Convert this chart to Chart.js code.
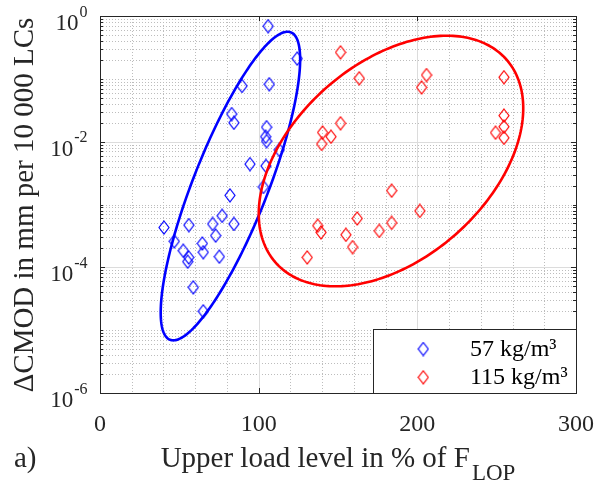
<!DOCTYPE html>
<html>
<head>
<meta charset="utf-8">
<script src="https://cdn.jsdelivr.net/npm/chart.js@4.4.0/dist/chart.umd.min.js"></script>
<style>
    html, body { margin: 0; padding: 0; background: #fff; }
    canvas { display: block; }
</style>
</head>
<body>
<canvas id="chart" width="598" height="487"></canvas>
<script>
/**
 * dCMOD per 10 000 load cycles vs upper load level
 * two fibre contents, log y axis, ellipses round each group
 */

// 57 kg/m³ (blue)
const blueX = [106, 124.3, 89.5, 106.7, 83, 84.4, 105, 104.4, 105, 113, 94.5, 104.6, 103, 81.9,
    40.3, 56, 71, 77, 84.4, 72.9, 64.5, 46.8, 52.5, 55.9, 55.3, 65.1, 75.2, 58.8, 65.1];
const blueY = [0.69, 0.21, 0.077, 0.082, 0.0275, 0.020, 0.017, 0.012, 0.0102, 0.0074, 0.0044, 0.0041, 0.0019, 0.0014,
    4.3e-4, 4.7e-4, 4.9e-4, 6.6e-4, 4.9e-4, 3.2e-4, 2.4e-4, 2.6e-4, 1.84e-4, 1.44e-4, 1.23e-4, 1.74e-4, 1.48e-4, 4.8e-5, 2.0e-5];

// 115 kg/m³ (red)
const redX = [151.6, 163.4, 205.8, 202.7, 254.6, 254.6, 254.6, 249.3, 254.6, 151.6, 140.3, 145.6, 139.7, 183.8,
    201.6, 162.1, 183.8, 176, 137.2, 139.3, 155, 159.2, 130.6];
const redY = [0.264, 0.102, 0.115, 0.073, 0.106, 0.026, 0.0173, 0.0139, 0.0115, 0.0196, 0.014, 0.012, 0.0092, 0.00166,
    7.9e-4, 6.0e-4, 5.1e-4, 3.8e-4, 4.6e-4, 3.6e-4, 3.3e-4, 2.1e-4, 1.44e-4];

const seriesLabels = ['57 kg/m³', '115 kg/m³'];

// axes
const xTicks = [0, 100, 200, 300];
const xMinorStep = 20;
const yTickExps = [0, -2, -4, -6];

// ellipses: centre and two conjugate half axes, x in %, y in log10
const blueEllipse = { cx: 82.2, cy: -2.706, ux: 36.0, uy: 2.456, vx: 25.2, vy: 0 };
const redEllipse = { cx: 183.4, cy: -2.308, ux: 35.1, uy: 1.994, vx: 75.6, vy: 0 };

const serif = "'Liberation Serif', 'Times New Roman', serif";
const axisColor = '#262626';

function diamondMark(color) {
    const c = document.createElement('canvas');
    c.width = 12;
    c.height = 15;
    const g = c.getContext('2d');
    g.strokeStyle = color;
    g.lineWidth = 1.2;
    g.beginPath();
    g.moveTo(6, 1);
    g.lineTo(11, 7.5);
    g.lineTo(6, 14);
    g.lineTo(1, 7.5);
    g.closePath();
    g.stroke();
    return c;
}

const blueMark = diamondMark('#0000ff');
const redMark = diamondMark('#ff0000');

function hLine(ctx, x1, x2, y) {
    ctx.beginPath();
    ctx.moveTo(x1, y);
    ctx.lineTo(x2, y);
    ctx.stroke();
}

function vLine(ctx, x, y1, y2) {
    ctx.beginPath();
    ctx.moveTo(x, y1);
    ctx.lineTo(x, y2);
    ctx.stroke();
}

function drawEllipse(ctx, xs, ys, e, color) {
    ctx.beginPath();
    for (let i = 0; i <= 240; i++) {
        const t = i / 240 * Math.PI * 2;
        const vx = e.cx + e.ux * Math.cos(t) + e.vx * Math.sin(t);
        const vl = e.cy + e.uy * Math.cos(t) + e.vy * Math.sin(t);
        const px = xs.getPixelForValue(vx);
        const py = ys.getPixelForValue(Math.pow(10, vl));
        if (i === 0) ctx.moveTo(px, py); else ctx.lineTo(px, py);
    }
    ctx.closePath();
    ctx.strokeStyle = color;
    ctx.lineWidth = 2.6;
    ctx.stroke();
}

const framePlugin = {
    id: 'frame',
    beforeDatasetsDraw(chart) {
        const { ctx, chartArea: a, scales: { x, y } } = chart;
        ctx.save();

        // minor grid, dotted
        ctx.strokeStyle = '#bdbdbd';
        ctx.lineWidth = 1;
        ctx.setLineDash([1, 2]);
        for (let v = xMinorStep; v < 300; v += xMinorStep) {
            if (xTicks.includes(v)) continue;
            vLine(ctx, Math.round(x.getPixelForValue(v)) + 0.5, a.top, a.bottom);
        }
        for (let e = -6; e < 0; e++) {
            for (let m = 1; m < 10; m++) {
                if (m === 1 && yTickExps.includes(e)) continue;
                const py = Math.round(y.getPixelForValue(m * Math.pow(10, e))) + 0.5;
                hLine(ctx, a.left, a.right, py);
            }
        }

        // major grid, solid
        ctx.setLineDash([]);
        ctx.strokeStyle = '#dcdcdc';
        xTicks.forEach(v => vLine(ctx, Math.round(x.getPixelForValue(v)) + 0.5, a.top, a.bottom));
        yTickExps.forEach(e => hLine(ctx, a.left, a.right, Math.round(y.getPixelForValue(Math.pow(10, e))) + 0.5));

        ctx.restore();
    },
    afterDatasetsDraw(chart) {
        const { ctx, chartArea: a, scales: { x, y } } = chart;
        ctx.save();

        drawEllipse(ctx, x, y, blueEllipse, '#0000ff');
        drawEllipse(ctx, x, y, redEllipse, '#ff0000');

        // box and inward ticks
        ctx.strokeStyle = axisColor;
        ctx.lineWidth = 1;
        ctx.strokeRect(Math.round(a.left) + 0.5, Math.round(a.top) + 0.5,
            Math.round(a.width), Math.round(a.height));
        xTicks.forEach(v => {
            const px = Math.round(x.getPixelForValue(v)) + 0.5;
            vLine(ctx, px, a.bottom, a.bottom - 5);
            vLine(ctx, px, a.top, a.top + 5);
        });
        for (let e = -6; e <= 0; e++) {
            for (let m = 1; m < 10; m++) {
                if (e === 0 && m > 1) break;
                const py = Math.round(y.getPixelForValue(m * Math.pow(10, e))) + 0.5;
                const len = (m === 1 && yTickExps.includes(e)) ? 5 : 3;
                hLine(ctx, a.left, a.left + len, py);
                hLine(ctx, a.right, a.right - len, py);
            }
        }

        // tick labels
        ctx.fillStyle = axisColor;
        ctx.textBaseline = 'alphabetic';
        ctx.font = `24px ${serif}`;
        ctx.textAlign = 'center';
        xTicks.forEach(v => ctx.fillText(String(v), x.getPixelForValue(v), 431));

        const labelRight = 87.5;
        yTickExps.forEach(e => {
            const py = y.getPixelForValue(Math.pow(10, e));
            ctx.font = `16px ${serif}`;
            const expTxt = String(e);
            const w = ctx.measureText(expTxt).width;
            ctx.textAlign = 'left';
            ctx.fillText(expTxt, labelRight - w, py + 0.5);
            ctx.font = `23px ${serif}`;
            ctx.textAlign = 'right';
            ctx.fillText('10', labelRight - w - 1, py + 14);
        });

        // x title with subscript
        const mainTxt = 'Upper load level in % of F';
        const subTxt = 'LOP';
        ctx.font = `29px ${serif}`;
        const wMain = ctx.measureText(mainTxt).width;
        ctx.font = `23px ${serif}`;
        const wSub = ctx.measureText(subTxt).width;
        const startX = (a.left + a.right) / 2 - (wMain + 2 + wSub) / 2;
        ctx.textAlign = 'left';
        ctx.font = `29px ${serif}`;
        ctx.fillText(mainTxt, startX, 466.5);
        ctx.font = `23px ${serif}`;
        ctx.fillText(subTxt, startX + wMain + 2, 480);

        ctx.font = `29px ${serif}`;
        ctx.fillText('a)', 14, 466.5);

        // y title
        ctx.save();
        ctx.translate(33, 205);
        ctx.rotate(-Math.PI / 2);
        ctx.textAlign = 'center';
        ctx.fillText('ΔCMOD in mm per 10 000 LCs', 0, 0);
        ctx.restore();

        // legend box, bottom right inside the axes
        const lx = 373.5, ly = 329.5;
        ctx.fillStyle = '#fff';
        ctx.fillRect(lx, ly, a.right - lx, a.bottom - ly);
        ctx.strokeStyle = axisColor;
        ctx.strokeRect(lx, ly, Math.round(a.right) + 0.5 - lx, Math.round(a.bottom) + 0.5 - ly);
        const marks = [blueMark, redMark];
        const rowsY = [349, 377.3];
        ctx.fillStyle = '#000';
        ctx.font = `24px ${serif}`;
        ctx.textAlign = 'left';
        seriesLabels.forEach((lab, i) => {
            ctx.drawImage(marks[i], 423.3 - marks[i].width / 2, rowsY[i] - marks[i].height / 2);
            ctx.fillText(lab, 470, rowsY[i] + 7);
        });

        ctx.restore();
    }
};

const toPoints = (xs, ys) => xs.map((v, i) => ({ x: v, y: ys[i] }));

new Chart(document.getElementById('chart'), {
    type: 'scatter',
    data: {
        datasets: [{
            label: seriesLabels[0],
            data: toPoints(blueX, blueY),
            pointStyle: blueMark,
            pointRadius: 6
        }, {
            label: seriesLabels[1],
            data: toPoints(redX, redY),
            pointStyle: redMark,
            pointRadius: 6
        }]
    },
    options: {
        responsive: false,
        animation: false,
        devicePixelRatio: 1,
        layout: { padding: { left: 100, top: 16, right: 22, bottom: 94 } },
        plugins: {
            legend: { display: false },
            tooltip: { enabled: false }
        },
        scales: {
            x: { type: 'linear', min: 0, max: 300, display: false },
            y: { type: 'logarithmic', min: 1e-6, max: 1, display: false }
        }
    },
    plugins: [framePlugin]
});
</script>
</body>
</html>
